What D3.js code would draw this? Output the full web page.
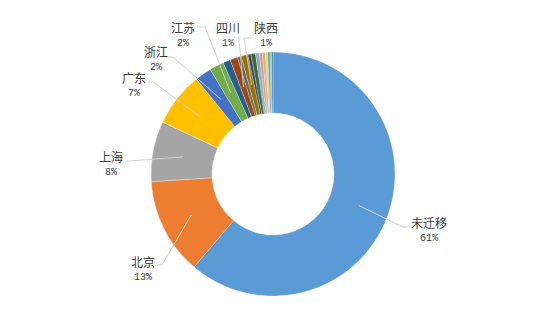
<!DOCTYPE html>
<html>
<head>
<meta charset="utf-8">
<script src="https://cdn.jsdelivr.net/npm/d3@7"></script>
<style>
  body { margin: 0; background: #fff; }
  #chart text { fill: #3a3a3a; }
  #chart .name { font-family: "Noto Sans CJK SC", sans-serif; font-size: 12px; }
  #chart .pct { font-family: "Liberation Mono", monospace; font-size: 10px; }
</style>
</head>
<body>
<div id="chart"></div>
<script>
// slices, clockwise from 12 o'clock
const names = ["未迁移", "北京", "上海", "广东", "浙江", "江苏", "湖北", "四川", "山东", "陕西",
  "河南", "湖南", "福建", "安徽", "辽宁", "天津", "重庆", "河北", "其他"];
const values = [61.2, 12.8, 8.0, 7.2, 2.2, 1.9, 1.0, 1.0, 0.5, 0.9,
  0.4, 0.6, 0.5, 0.4, 0.4, 0.3, 0.3, 0.2, 0.2];
const colors = ["#5B9BD5", "#ED7D31", "#A5A5A5", "#FFC000", "#4472C4", "#70AD47", "#255E91", "#9E480E",
  "#636363", "#997300", "#264478", "#43682B", "#7CAFDD", "#F1975A", "#B7B7B7", "#FFCD33",
  "#698ED0", "#8CC168", "#327DC2"];
const labeled = ["未迁移", "北京", "上海", "广东", "浙江", "江苏", "四川", "陕西"];

// label placement (manual layout, like the original)
const labelLayout = {
  "未迁移": { x: 429, y: 228, line: [[410, 227], [403, 227]] },
  "北京": { x: 143, y: 267, line: [[155, 265], [162, 265]] },
  "上海": { x: 111, y: 162, line: [[125, 161], [130, 161]] },
  "广东": { x: 134, y: 83, line: [[148, 82], [153, 82]] },
  "浙江": { x: 156, y: 57, line: [[168, 57], [173, 57]] },
  "江苏": { x: 183, y: 33, line: [[197, 27], [205, 27]] },
  "四川": { x: 228, y: 33, line: [[239, 36], [239, 40]] },
  "陕西": { x: 266, y: 33, line: [[251, 38], [244, 38]] },
};

const W = 540, H = 315;
const cx = 273, cy = 174;
const rOuter = 122, rInner = 61;

const data = names.map((n, i) => ({ name: n, value: values[i], color: colors[i] }));
const total = d3.sum(values);

const svg = d3.select("#chart").append("svg")
  .attr("width", W)
  .attr("height", H);

const g = svg.append("g").attr("transform", `translate(${cx},${cy})`);

const pie = d3.pie().sort(null).value(d => d.value);
const arc = d3.arc().innerRadius(rInner).outerRadius(rOuter);
const midArc = d3.arc().innerRadius((rInner + rOuter) / 2).outerRadius((rInner + rOuter) / 2);

const arcs = pie(data);

g.selectAll("path.slice")
  .data(arcs)
  .enter()
  .append("path")
  .attr("class", "slice")
  .attr("d", arc)
  .attr("fill", d => d.data.color)
  .attr("stroke", "#fff")
  .attr("stroke-width", 0.3);

// leader lines + labels
const lineGen = d3.line();
arcs.filter(d => labeled.includes(d.data.name)).forEach(d => {
  const lay = labelLayout[d.data.name];
  const m = midArc.centroid(d);
  const pts = [lay.line[0], lay.line[1], [m[0] + cx, m[1] + cy]];
  svg.append("path")
    .attr("d", lineGen(pts))
    .attr("fill", "none")
    .attr("stroke", "#d0d0d0")
    .attr("stroke-width", 1);

  svg.append("text")
    .attr("class", "name")
    .attr("x", lay.x)
    .attr("y", lay.y)
    .attr("text-anchor", "middle")
    .text(d.data.name);

  svg.append("text")
    .attr("class", "pct")
    .attr("x", lay.x)
    .attr("y", lay.y + 12.5)
    .attr("text-anchor", "middle")
    .text(Math.round(d.data.value / total * 100) + "%");
});
</script>
</body>
</html>
